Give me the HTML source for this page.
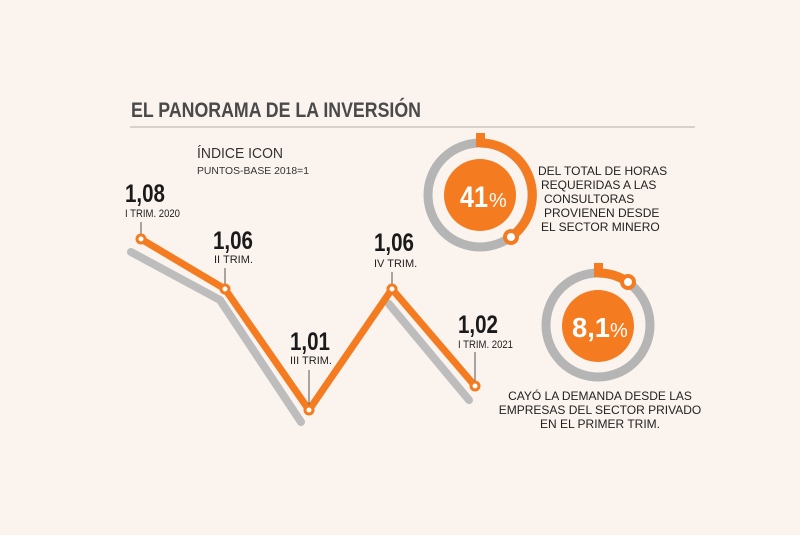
<!DOCTYPE html>
<html><head><meta charset="utf-8"><style>
body{margin:0;width:800px;height:530px;background:#fbf3ee;overflow:hidden;font-family:"Liberation Sans",sans-serif}
</style></head><body>
<svg width="800" height="530" viewBox="0 0 800 530" xmlns="http://www.w3.org/2000/svg" font-family="Liberation Sans, sans-serif">
<text x="131" y="117" font-size="21" font-weight="bold" fill="#4a4a4a" textLength="290" lengthAdjust="spacingAndGlyphs">EL PANORAMA DE LA INVERSIÓN</text>
<line x1="130" y1="127" x2="695" y2="127" stroke="#d8d0ca" stroke-width="2"/>
<text x="197" y="158" font-size="15" fill="#333" textLength="86" lengthAdjust="spacingAndGlyphs">ÍNDICE ICON</text>
<text x="197" y="174" font-size="10" fill="#333" textLength="112" lengthAdjust="spacingAndGlyphs">PUNTOS-BASE 2018=1</text>
<!-- shadow -->
<polyline points="131,252 220,300 301,422" fill="none" stroke="#bdbdbd" stroke-width="8" stroke-linecap="round" stroke-linejoin="round"/>
<polyline points="389,304 469,400" fill="none" stroke="#bdbdbd" stroke-width="8" stroke-linecap="round"/>
<!-- line -->
<polyline points="141,239 225,289 309,410 392,289 475,386" fill="none" stroke="#f47b20" stroke-width="7" stroke-linejoin="round"/>
<g stroke="#555" stroke-width="1">
<line x1="141" y1="222" x2="141" y2="234"/><line x1="225" y1="268" x2="225" y2="284"/>
<line x1="309" y1="370" x2="309" y2="405"/><line x1="392" y1="272" x2="392" y2="284"/>
<line x1="475" y1="352" x2="475" y2="381"/></g>
<g fill="#fff" stroke="#f47b20" stroke-width="3">
<circle cx="141" cy="239" r="4"/><circle cx="225" cy="289" r="4"/><circle cx="309" cy="410" r="4"/><circle cx="392" cy="289" r="4"/><circle cx="475" cy="386" r="4"/></g>
<g font-weight="bold" fill="#1a1a1a" font-size="25">
<text x="125" y="202" textLength="40" lengthAdjust="spacingAndGlyphs">1,08</text>
<text x="213" y="249" textLength="40" lengthAdjust="spacingAndGlyphs">1,06</text>
<text x="290" y="350" textLength="40" lengthAdjust="spacingAndGlyphs">1,01</text>
<text x="374" y="251" textLength="40" lengthAdjust="spacingAndGlyphs">1,06</text>
<text x="458" y="333" textLength="40" lengthAdjust="spacingAndGlyphs">1,02</text></g>
<g font-size="11" fill="#222">
<text x="125" y="217" textLength="55" lengthAdjust="spacingAndGlyphs">I TRIM. 2020</text>
<text x="214" y="263">II TRIM.</text>
<text x="290" y="364">III TRIM.</text>
<text x="374" y="267">IV TRIM.</text>
<text x="458" y="348" textLength="55" lengthAdjust="spacingAndGlyphs">I TRIM. 2021</text></g>
<!-- circle 1 -->
<circle cx="480" cy="195" r="52" fill="none" stroke="#b5b5b5" stroke-width="9"/>
<path d="M480 143 A52 52 0 0 1 511 237" fill="none" stroke="#f47b20" stroke-width="9"/>
<rect x="476" y="133" width="9" height="14" fill="#f47b20"/>
<circle cx="511" cy="237" r="6" fill="#fff" stroke="#f47b20" stroke-width="4"/>
<circle cx="480" cy="195" r="36" fill="#f47b20"/>
<text x="460" y="207" font-size="30" font-weight="bold" fill="#fff" textLength="28" lengthAdjust="spacingAndGlyphs">41</text>
<text x="489" y="207" font-size="20" fill="#fff">%</text>
<g font-size="12" fill="#222">
<text x="538" y="175">DEL TOTAL DE HORAS</text>
<text x="541" y="189">REQUERIDAS A LAS</text>
<text x="544" y="203">CONSULTORAS</text>
<text x="544" y="217">PROVIENEN DESDE</text>
<text x="541" y="231">EL SECTOR MINERO</text></g>
<!-- circle 2 -->
<circle cx="598" cy="325" r="52" fill="none" stroke="#b5b5b5" stroke-width="9"/>
<path d="M598 273 A52 52 0 0 1 628 282" fill="none" stroke="#f47b20" stroke-width="9"/>
<rect x="594" y="263" width="9" height="14" fill="#f47b20"/>
<circle cx="628" cy="282" r="6" fill="#fff" stroke="#f47b20" stroke-width="4"/>
<circle cx="598" cy="326" r="36" fill="#f47b20"/>
<text x="572" y="337" font-size="28" font-weight="bold" fill="#fff" textLength="38" lengthAdjust="spacingAndGlyphs">8,1</text>
<text x="610" y="337" font-size="20" fill="#fff">%</text>
<g font-size="12" fill="#222" text-anchor="middle">
<text x="600" y="400">CAYÓ LA DEMANDA DESDE LAS</text>
<text x="600" y="414">EMPRESAS DEL SECTOR PRIVADO</text>
<text x="600" y="428">EN EL PRIMER TRIM.</text></g>
</svg>
</body></html>
